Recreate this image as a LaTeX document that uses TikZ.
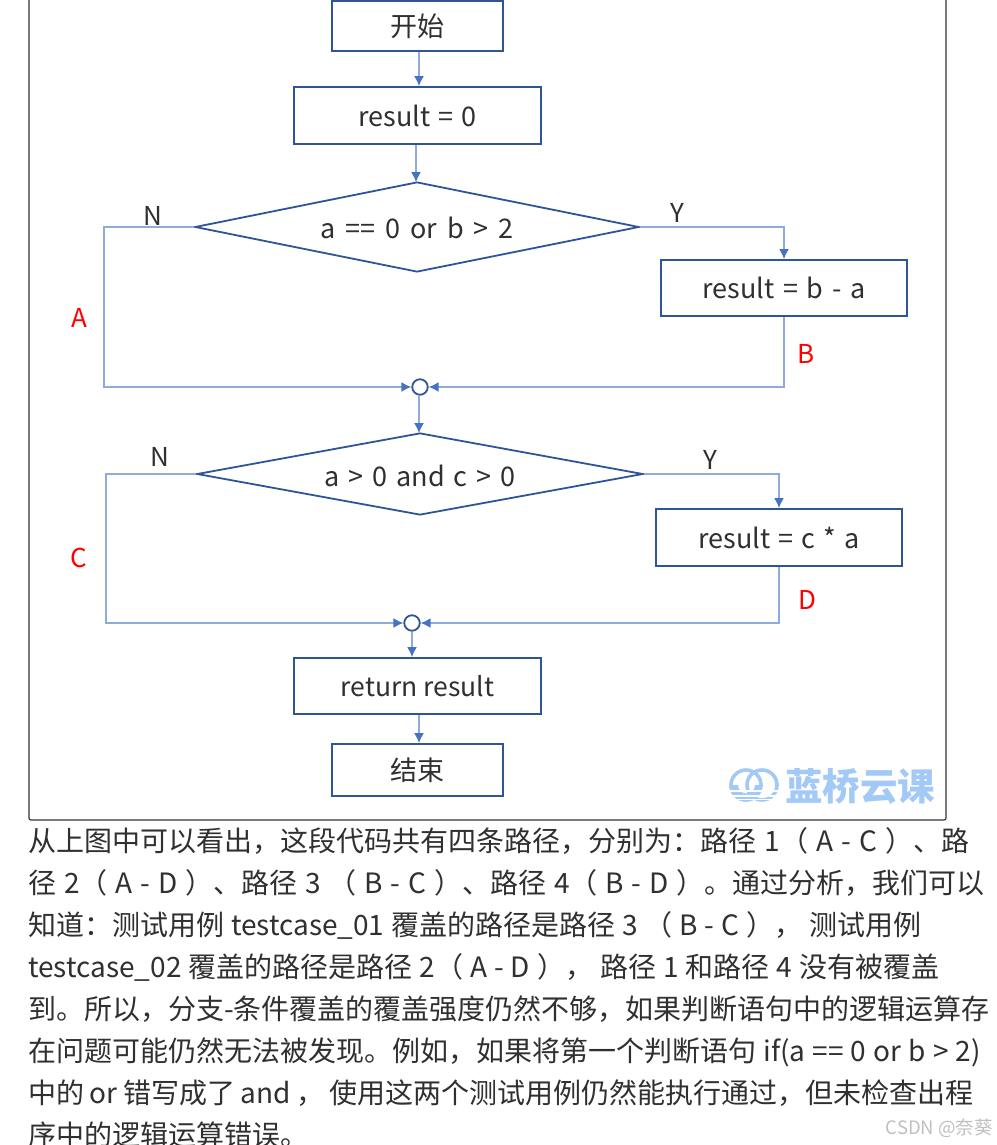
\documentclass[tikz,border=0pt]{standalone}
\usepackage{fontspec}
\setmainfont{Noto Sans CJK SC}
\usetikzlibrary{arrows.meta,shapes.geometric}
\definecolor{nodeblue}{HTML}{2F5597}
\definecolor{lineblue}{HTML}{8FAADC}
\definecolor{tipblue}{HTML}{4472C4}
\definecolor{logoblue}{HTML}{A3C9F7}
\definecolor{bodyink}{HTML}{303030}
\newcommand{\wsp}[1]{\spaceskip=#1pt\relax}
\newcommand{\dwn}[2]{\raisebox{-#1pt}{#2}}
\tikzset{
  x=1pt,y=-1pt,
  boxnode/.style={draw=nodeblue,line width=1.8pt,fill=white,minimum width=#1,inner sep=0pt,text=bodyink,font=\fontsize{27}{30}\selectfont},
  deci/.style={draw=nodeblue,line width=1.8pt,fill=white,diamond,inner sep=0pt},
  decitext/.style={text=bodyink,inner sep=0pt,font=\fontsize{27}{30}\selectfont},
  flow/.style={draw=lineblue,line width=1.6pt,-{Latex[length=10pt,width=10pt,color=tipblue]}},
  junction/.style={circle,draw=nodeblue,line width=1.8pt,fill=white,minimum size=15.5pt,inner sep=0pt},
  branchlabel/.style={text=bodyink,font=\fontsize{26}{28}\selectfont,inner sep=0pt},
  pathlabel/.style={text=red,font=\fontsize{26}{28}\selectfont,inner sep=0pt},
  bodyline/.style={anchor=base west,text=bodyink,inner sep=0pt,font=\fontsize{28}{30}\selectfont},
}
\begin{document}
\begin{tikzpicture}
\useasboundingbox (0,0) rectangle (996,1145);
\clip (0,0) rectangle (996,1145);
\fill[white] (0,0) rectangle (996,1145);
\draw[draw=black!80,line width=1.2pt,rounded corners=2pt] (29,-6) rectangle (946,820);

% logo
\begin{scope}
  \draw[logoblue,line width=3.6pt] (746,785) circle (15) (762,785) circle (15);
  \fill[logoblue] (729.5,785) arc (180:0:16.5) -- (755,785) arc (0:180:8.5) -- cycle;
  \fill[white] (726,790) rectangle (782,792);
  \fill[white] (726,795) rectangle (782,796.5);
  \fill[white] (726,799) rectangle (782,800);
\end{scope}
\node[text=logoblue,font=\bfseries\fontsize{37.5}{39}\selectfont,inner sep=0pt] (logo) at (860,786) {蓝桥云课};

% nodes
\node[boxnode=171pt,minimum height=50pt] (start) at (417.5,26) {开始};
\node[boxnode=247pt,minimum height=57pt] (res0) at (417.5,115.5) {\wsp{8}result = 0};
\node[deci,minimum width=444pt,minimum height=90pt] (d1) at (417,227) {};
\node[decitext] (d1t) at (417,228) {\wsp{10}a == 0 or b > 2};
\node[boxnode=246pt,minimum height=56pt] (ba) at (784,288) {\dwn{1}{\wsp{8.8}result = b - a}};
\node[junction] (m1) at (420,387) {};
\node[deci,minimum width=446pt,minimum height=82pt] (d2) at (420,474) {};
\node[decitext] (d2t) at (420,476) {\wsp{9}a > 0 and c > 0};
\node[boxnode=246pt,minimum height=57pt] (ca) at (779,537.5) {\dwn{1.5}{\wsp{8}result = c * a}};
\node[junction] (m2) at (412,623) {};
\node[boxnode=247pt,minimum height=56pt] (ret) at (417.5,686) {\dwn{1}{\fontsize{26.5}{30}\selectfont return result}};
\node[boxnode=171pt,minimum height=52pt] (end) at (417.5,770) {\dwn{1.5}{结束}};

% connectors
\coordinate (c1) at (104,227);
\coordinate (c2) at (106,474);
\draw[flow] ([xshift=1.5pt]start.south) -- ([xshift=1.5pt]res0.north);
\draw[flow] ([xshift=-1.5pt]res0.south) -- ([xshift=-1pt,yshift=-1pt]d1.north);
\draw[flow] (d1.east) -| (ba.north);
\draw[flow] (d1.west) -- (c1) |- (m1.west);
\draw[flow] (ba.south) |- (m1.east);
\draw[flow] ([xshift=-1pt]m1.south) -- ([xshift=-1pt,yshift=-1pt]d2.north);
\draw[flow] (d2.east) -| (ca.north);
\draw[flow] (d2.west) -- (c2) |- (m2.west);
\draw[flow] (ca.south) |- (m2.east);
\draw[flow] (m2.south) -- (m2.south |- ret.north);
\draw[flow] ([xshift=1.5pt]ret.south) -- ([xshift=1.5pt]end.north);

% labels
\node[branchlabel] (n1) at (153,216) {N};
\node[branchlabel] (y1) at (677,213) {Y};
\node[pathlabel] (la) at (79,318) {A};
\node[pathlabel] (lb) at (806,354) {B};
\node[branchlabel] (n2) at (160,457) {N};
\node[branchlabel] (y2) at (710,460) {Y};
\node[pathlabel] (lc) at (79,558) {C};
\node[pathlabel] (ld) at (807,600) {D};

% body text
\node[bodyline] (t1) at (28,851) {\wsp{8.3}从上图中可以看出，这段代码共有四条路径，分别为：路径 1（ A - C ）、路};
\node[bodyline] (t2) at (28,893) {\wsp{7.9}径 2（ A - D ）、路径 3 （ B - C ）、路径 4（ B - D ）。通过分析，我们可以};
\node[bodyline] (t3) at (28,935) {\wsp{6.9}知道：测试用例 testcase\_01 覆盖的路径是路径 3 （ B - C ）， 测试用例};
\node[bodyline] (t4) at (28,977) {\wsp{7}testcase\_02 覆盖的路径是路径 2（ A - D ）， 路径 1 和路径 4 没有被覆盖};
\node[bodyline] (t5) at (28,1019) {到。所以，分支-条件覆盖的覆盖强度仍然不够，如果判断语句中的逻辑运算存};
\node[bodyline] (t6) at (28,1061) {\wsp{7.2}在问题可能仍然无法被发现。例如，如果将第一个判断语句 if(a == 0 or b > 2)};
\node[bodyline] (t7) at (28,1103) {\wsp{5.5}中的 or 错写成了 and ， 使用这两个测试用例仍然能执行通过，但未检查出程};
\node[bodyline] (t8) at (28,1145) {序中的逻辑运算错误。};
\node[anchor=base east,inner sep=0pt,text=black!25,font=\fontsize{18.5}{20}\selectfont] (wm) at (993,1134) {CSDN @奈葵};
\end{tikzpicture}
\end{document}
